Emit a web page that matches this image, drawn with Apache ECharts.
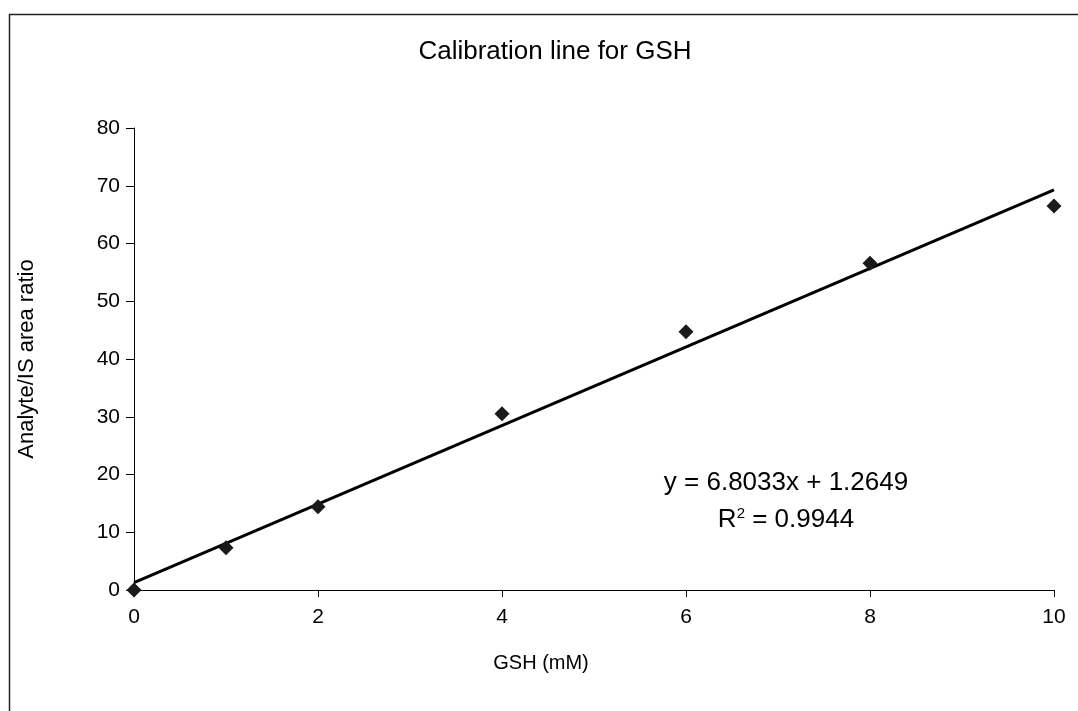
<!DOCTYPE html>
<html>
<head>
<meta charset="utf-8">
<title>Calibration line for GSH</title>
<script src="https://cdn.jsdelivr.net/npm/echarts@6/dist/echarts.min.js"></script>
<style>
  html, body { margin: 0; padding: 0; background: #fff; }
  #chart { width: 1078px; height: 711px; }
</style>
</head>
<body>
<div id="chart"></div>
<script>
// GSH concentrations (mM) and measured analyte / internal-standard area ratios
const concentrations = [0, 1, 2, 4, 6, 8, 10];
const areaRatios = [0, 7.3, 14.4, 30.5, 44.7, 56.6, 66.5];

// Linear least-squares fit reported on the chart
const slope = 6.8033;
const intercept = 1.2649;
const rSquared = 0.9944;
const fitRange = [0, 10];

// Axis ticks
const xTicks = [0, 2, 4, 6, 8, 10];
const yTicks = [0, 10, 20, 30, 40, 50, 60, 70, 80];

const FONT = '"Liberation Sans", Arial, sans-serif';

const points = concentrations.map((c, i) => [c, areaRatios[i]]);
const fitLine = fitRange.map(x => [x, slope * x + intercept]);

const chart = echarts.init(document.getElementById('chart'), null, { renderer: 'canvas' });

chart.setOption({
  backgroundColor: '#ffffff',
  animation: false,
  textStyle: { fontFamily: FONT, color: '#000' },
  title: {
    text: 'Calibration line for GSH',
    left: 550,
    top: 34,
    textAlign: 'center',
    textStyle: { fontFamily: FONT, fontSize: 26, fontWeight: 'normal', color: '#000' }
  },
  grid: { left: 134, right: 24, top: 128, bottom: 121, containLabel: false },
  xAxis: {
    type: 'value',
    min: xTicks[0],
    max: xTicks[xTicks.length - 1],
    interval: xTicks[1] - xTicks[0],
    name: 'GSH (mM)',
    nameLocation: 'middle',
    nameGap: 63,
    nameTextStyle: { fontFamily: FONT, fontSize: 20, color: '#000', padding: [0, 106, 0, 0] },
    axisLine: { show: true, onZero: false, lineStyle: { color: '#000', width: 1 } },
    axisTick: { show: true, inside: false, length: 7, lineStyle: { color: '#000' } },
    axisLabel: { fontFamily: FONT, fontSize: 21, color: '#000', margin: 17 },
    splitLine: { show: false }
  },
  yAxis: {
    type: 'value',
    min: yTicks[0],
    max: yTicks[yTicks.length - 1],
    interval: yTicks[1] - yTicks[0],
    name: 'Analyte/IS area ratio',
    nameLocation: 'middle',
    nameGap: 96,
    nameTextStyle: { fontFamily: FONT, fontSize: 22, color: '#000' },
    axisLine: { show: true, onZero: false, lineStyle: { color: '#000', width: 1 } },
    axisTick: { show: true, inside: false, length: 8, lineStyle: { color: '#000' } },
    axisLabel: { fontFamily: FONT, fontSize: 21, color: '#000', margin: 14 },
    splitLine: { show: false }
  },
  series: [
    {
      name: 'Linear fit',
      type: 'line',
      data: fitLine,
      showSymbol: false,
      symbol: 'none',
      lineStyle: { color: '#000', width: 3 },
      z: 2
    },
    {
      name: 'GSH',
      type: 'scatter',
      data: points,
      symbol: 'diamond',
      symbolSize: 15,
      itemStyle: { color: '#1a1a1a', opacity: 1 },
      z: 3
    }
  ],
  graphic: [
    {
      type: 'rect',
      shape: { x: 9.5, y: 14.5, width: 1100, height: 720 },
      style: { fill: 'none', stroke: '#222', lineWidth: 1.5 },
      silent: true
    },
    {
      type: 'text',
      x: 786,
      y: 483,
      style: {
        text: 'y = ' + slope.toFixed(4) + 'x + ' + intercept.toFixed(4),
        fontFamily: FONT, fontSize: 26, fill: '#000',
        textAlign: 'center', textVerticalAlign: 'middle'
      }
    },
    {
      type: 'text',
      x: 786,
      y: 520,
      style: {
        text: '{r|R}{sup|2}{r| = ' + rSquared.toFixed(4) + '}',
        fontFamily: FONT, fontSize: 26, fill: '#000',
        textAlign: 'center', textVerticalAlign: 'middle',
        rich: {
          r: { fontFamily: FONT, fontSize: 26, fill: '#000' },
          sup: { fontFamily: FONT, fontSize: 15, fill: '#000', verticalAlign: 'top', padding: [0, 0, 13, 0] }
        }
      }
    }
  ]
});
</script>
</body>
</html>
